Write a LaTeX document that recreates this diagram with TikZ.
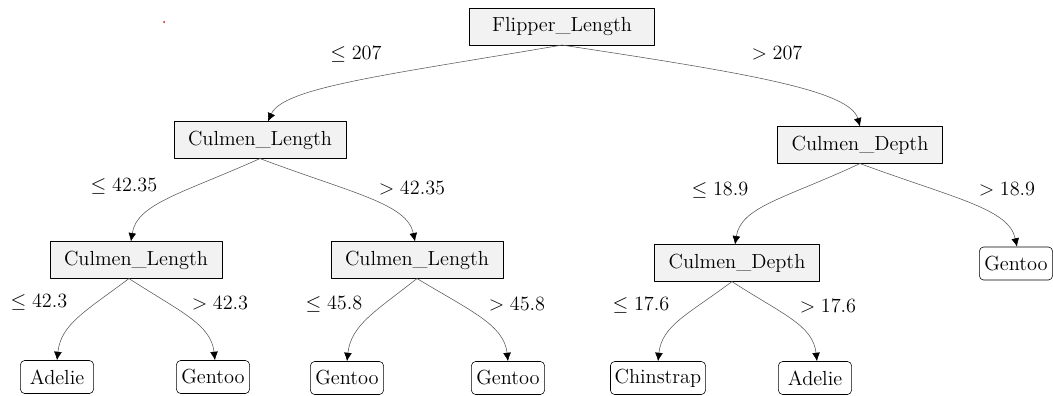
\documentclass[tikz,border=0pt]{standalone}
\usetikzlibrary{arrows.meta}
\begin{document}
\begin{tikzpicture}[x=0.025cm, y=-0.025cm, >={Latex[length=6pt,width=5.5pt,color=black]}, font=\fontsize{14.5}{17}\selectfont, line join=round, line cap=round,
	cond/.style={draw, fill=black!5, minimum height=26pt, inner xsep=10pt},
	leaf/.style={draw, rounded corners=3pt, fill=white, minimum height=23.5pt, minimum width=52pt, inner xsep=3pt},
	branch/.style={->, draw=black!65, thin}]
	\useasboundingbox (0,0) rectangle (1053,395);
	% decision nodes
	\node[cond, minimum width=131.5pt] (fl) at (562,26.5) {Flipper\_Length};
	\node[cond] (cl) at (260,140) {Culmen\_Length};
	\node[cond] (cd) at (860,145) {Culmen\_Depth};
	\node[cond] (cll) at (136,260) {Culmen\_Length};
	\node[cond] (clr) at (417,260) {Culmen\_Length};
	\node[cond] (cdl) at (737,263) {Culmen\_Depth};
	% leaves
	\node[leaf] (gen4) at (1016,263.5) {Gentoo};
	\node[leaf] (ade1) at (57,377) {Adelie};
	\node[leaf] (gen1) at (213,377) {Gentoo};
	\node[leaf] (gen2) at (347,378) {Gentoo};
	\node[leaf] (gen3) at (508,378) {Gentoo};
	\node[leaf] (chin) at (658,378) {Chinstrap};
	\node[leaf] (ade2) at (815,378) {Adelie};
	% branches
	\draw[branch] (fl.south) .. controls +(-176,30) and +(15,-34) .. ([xshift=5.7pt]cl.north);
	\draw[branch] (fl.south) .. controls +(185,28) and +(-10,-36) .. (cd.north);
	\draw[branch] (cl.south) .. controls +(-78,35) and +(6,-38) .. ([xshift=-3.6pt]cll.north);
	\draw[branch] (cl.south) .. controls +(93,35) and +(-8,-38) .. ([xshift=-1.4pt]clr.north);
	\draw[branch] (cd.south) .. controls +(-75,35) and +(6,-38) .. ([xshift=-1.4pt]cdl.north);
	\draw[branch] (cd.south) .. controls +(95,35) and +(-8,-38) .. ([xshift=0.7pt]gen4.north);
	\draw[branch] ([xshift=-5pt]cll.south) .. controls +(-44,33) and +(4,-36) .. (ade1.north);
	\draw[branch] ([xshift=-5pt]cll.south) .. controls +(51,33) and +(-4,-36) .. ([xshift=1.4pt]gen1.north);
	\draw[branch] (clr.south) .. controls +(-42,33) and +(4,-36) .. (gen2.north);
	\draw[branch] (clr.south) .. controls +(55,33) and +(-4,-36) .. (gen3.north);
	\draw[branch] ([xshift=-3.6pt]cdl.south) .. controls +(-44,33) and +(4,-36) .. (chin.north);
	\draw[branch] ([xshift=-3.6pt]cdl.south) .. controls +(51,33) and +(-4,-36) .. ([xshift=1.4pt]ade2.north);
	% split values
	\node (t1) at (356,54) {$\leq 207$};
	\node (t2) at (777,53) {$> 207$};
	\node (t3) at (124,186) {$\leq 42.35$};
	\node (t4) at (412,188) {$> 42.35$};
	\node (t5) at (720,190) {$\leq 18.9$};
	\node (t6) at (1007,189) {$> 18.9$};
	\node (t7) at (39,302) {$\leq 42.3$};
	\node (t8) at (220,303) {$> 42.3$};
	\node (t9) at (334,304) {$\leq 45.8$};
	\node (t10) at (517,304) {$> 45.8$};
	\node (t11) at (641,305) {$\leq 17.6$};
	\node (t12) at (828,306) {$> 17.6$};
	\fill[red!85!black] (164,22) circle (1);
\end{tikzpicture}
\end{document}
